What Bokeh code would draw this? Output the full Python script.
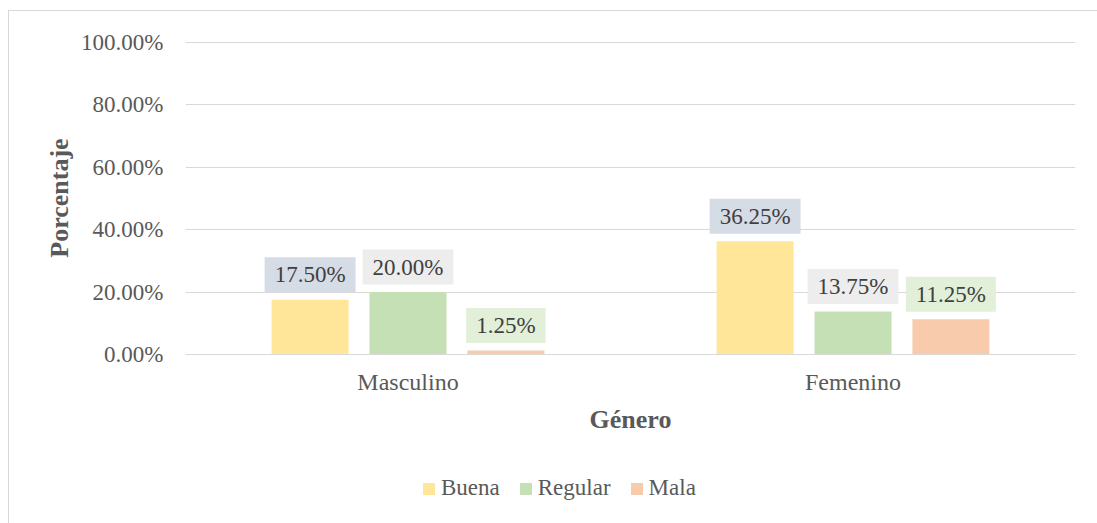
from bokeh.plotting import figure
from bokeh.layouts import column
from bokeh.models import (FactorRange, Range1d, ColumnDataSource, Legend, LegendItem,
                          PrintfTickFormatter, FixedTicker)
from bokeh.transform import dodge
from bokeh.core.properties import value
from bokeh.embed import file_html
from bokeh.resources import INLINE

generos = ["Masculino", "Femenino"]
series = ["Buena", "Regular", "Mala"]
buena = [17.50, 36.25]
regular = [20.00, 13.75]
mala = [1.25, 11.25]
y_ticks = [0, 20, 40, 60, 80, 100]

bar_colors = ["#FFE699", "#C5E0B4", "#F8CBAD"]
label_bg = ["#D6DCE5", "#EDEDED", "#E2F0D9"]
offsets = [-0.22, 0.0, 0.22]
FONT = "Liberation Serif"

p = figure(x_range=FactorRange(*generos, range_padding=0), y_range=Range1d(0, 100.2),
           width=1088, height=455, output_backend="svg", toolbar_location=None,
           min_border_left=176, min_border_right=22, min_border_top=30, min_border_bottom=112)
p.outline_line_color = None
p.xgrid.grid_line_color = None
p.ygrid.grid_line_color = "#d9d9d9"
p.ygrid.grid_line_width = 1

p.yaxis.ticker = FixedTicker(ticks=y_ticks)
p.yaxis.formatter = PrintfTickFormatter(format="%.2f%%")
for ax in (p.xaxis[0], p.yaxis[0]):
    ax.major_tick_line_color = None
    ax.minor_tick_line_color = None
    ax.major_label_text_font = FONT
    ax.major_label_text_font_size = "23px"
    ax.major_label_text_color = "#595959"
    ax.axis_label_text_font = FONT
    ax.axis_label_text_font_size = "26px"
    ax.axis_label_text_font_style = "bold"
    ax.axis_label_text_color = "#595959"
p.xaxis.major_label_text_font_size = "24px"
p.yaxis.axis_line_color = None
p.xaxis.axis_line_color = "#d9d9d9"
p.yaxis.major_label_standoff = 16
p.yaxis.axis_label_standoff = 4
p.xaxis.major_label_standoff = 8
p.xaxis.axis_label_standoff = 7
p.yaxis.axis_label = "Porcentaje"
p.xaxis.axis_label = "Género"

# legend strip below the chart (its frame is aligned with the chart's frame)
lg = figure(width=1088, height=57, x_range=FactorRange(*generos, range_padding=0),
            y_range=Range1d(1000, 1001), output_backend="svg", toolbar_location=None,
            min_border=0)
lg.axis.visible = False
lg.grid.visible = False
lg.outline_line_color = None

items = []
for name, vals, col, bg, off in zip(series, [buena, regular, mala], bar_colors, label_bg, offsets):
    src = ColumnDataSource(dict(genero=generos, val=vals,
                                label=[f"{v:.2f}%" for v in vals]))
    p.vbar(x=dodge("genero", off, range=p.x_range), top="val", width=0.173,
           source=src, fill_color=col, line_color=None)
    p.text(x=dodge("genero", off, range=p.x_range), y="val", text="label", source=src,
           text_align="center", text_baseline="middle", y_offset=-25,
           text_font=value(FONT), text_font_size="23px", text_color="#404040",
           background_fill_color=bg, padding=(10, 5))
    # same bars in the legend strip, out of its visible y-range: only the legend swatch shows
    r = lg.vbar(x=dodge("genero", off, range=lg.x_range), top="val", width=0.173,
                source=src, fill_color=col, line_color=None)
    items.append(LegendItem(label=name, renderers=[r]))

legend = Legend(items=items, location=(236, 22), orientation="horizontal",
                glyph_width=15, glyph_height=15, label_standoff=5, spacing=18,
                label_text_font=FONT, label_text_font_size="23px", label_text_color="#595959",
                padding=0, margin=0, border_line_color=None, background_fill_color=None)
lg.add_layout(legend)

layout = column(p, lg, spacing=0,
                styles={"border-top": "1px solid #d9d9d9", "border-left": "1px solid #d9d9d9",
                        "margin-top": "10px", "margin-left": "8px"})

open("out.html", "w").write(file_html(layout, INLINE))
